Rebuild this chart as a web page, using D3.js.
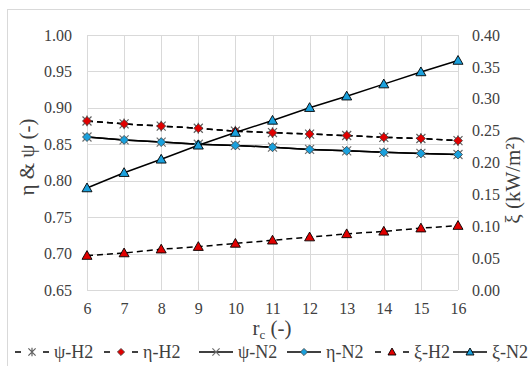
<!DOCTYPE html>
<html>
<head>
<meta charset="utf-8">
<script src="https://cdn.jsdelivr.net/npm/d3@7"></script>
<style>
  html, body { margin: 0; padding: 0; background: #fff; }
</style>
</head>
<body>
<div id="chart"></div>
<script>
const rc = [6, 7, 8, 9, 10, 11, 12, 13, 14, 15, 16];

// left axis: eta & psi
const psiH2 = [0.882, 0.878, 0.875, 0.872, 0.868, 0.866, 0.864, 0.862, 0.8595, 0.858, 0.855];
const etaH2 = [0.882, 0.878, 0.875, 0.872, 0.868, 0.866, 0.864, 0.862, 0.8595, 0.858, 0.855];
const psiN2 = [0.860, 0.856, 0.853, 0.850, 0.8485, 0.846, 0.843, 0.841, 0.839, 0.8375, 0.836];
const etaN2 = [0.860, 0.856, 0.853, 0.850, 0.8485, 0.846, 0.843, 0.841, 0.839, 0.8375, 0.836];

// right axis: xi (kW/m2)
const xiH2 = [0.054, 0.058, 0.064, 0.068, 0.073, 0.078, 0.083, 0.088, 0.092, 0.097, 0.101];
const xiN2 = [0.160, 0.184, 0.205, 0.227, 0.247, 0.266, 0.286, 0.304, 0.323, 0.342, 0.360];

const leftTicks = [0.65, 0.70, 0.75, 0.80, 0.85, 0.90, 0.95, 1.00];
const rightTicks = [0, 0.05, 0.10, 0.15, 0.20, 0.25, 0.30, 0.35, 0.40];

const RED = '#e00000';
const BLUE = '#1aa0dc';
const SERIF = 'Liberation Serif';
const TEXT_COLOR = '#404040';

const series = [
  { name: 'ψ-H2', values: psiH2, axis: 'L', dash: '6,4', marker: 'star' },
  { name: 'η-H2', values: etaH2, axis: 'L', dash: '6,4', marker: 'diamond', fill: RED },
  { name: 'ψ-N2', values: psiN2, axis: 'L', dash: null, marker: 'cross' },
  { name: 'η-N2', values: etaN2, axis: 'L', dash: null, marker: 'diamond', fill: BLUE },
  { name: 'ξ-H2', values: xiH2, axis: 'R', dash: '6,4', marker: 'triangle', fill: RED },
  { name: 'ξ-N2', values: xiN2, axis: 'R', dash: null, marker: 'triangle', fill: BLUE },
];

const totalWidth = 530;
const totalHeight = 366;
const plot = { left: 87, right: 458, top: 35, bottom: 290 };

const xScale = d3.scaleLinear().domain([6, 16]).range([plot.left, plot.right]);
const yLeft = d3.scaleLinear().domain([0.65, 1.0]).range([plot.bottom, plot.top]);
const yRight = d3.scaleLinear().domain([0, 0.4]).range([plot.bottom, plot.top]);

const svg = d3
  .select('#chart')
  .append('svg')
  .attr('width', totalWidth)
  .attr('height', totalHeight);

// chart border (partly cropped)
svg
  .append('rect')
  .attr('x', 7.5)
  .attr('y', 9.5)
  .attr('width', 600)
  .attr('height', 600)
  .attr('fill', 'none')
  .attr('stroke', '#d9d9d9');

// gridlines
svg
  .append('g')
  .selectAll('line')
  .data(leftTicks)
  .join('line')
  .attr('x1', plot.left)
  .attr('x2', plot.right)
  .attr('y1', (d) => Math.round(yLeft(d)) + 0.5)
  .attr('y2', (d) => Math.round(yLeft(d)) + 0.5)
  .attr('stroke', '#d9d9d9');

svg
  .append('g')
  .selectAll('line')
  .data(rc)
  .join('line')
  .attr('x1', (d) => Math.round(xScale(d)) + 0.5)
  .attr('x2', (d) => Math.round(xScale(d)) + 0.5)
  .attr('y1', plot.top)
  .attr('y2', plot.bottom)
  .attr('stroke', '#d9d9d9');

// axes
const fmt = d3.format('.2f');
const leftAxis = svg
  .append('g')
  .attr('transform', `translate(${plot.left},0)`)
  .call(d3.axisLeft(yLeft).tickValues(leftTicks).tickFormat(fmt).tickSize(0).tickPadding(15));
const rightAxis = svg
  .append('g')
  .attr('transform', `translate(${plot.right},0)`)
  .call(d3.axisRight(yRight).tickValues(rightTicks).tickFormat(fmt).tickSize(0).tickPadding(14));
const bottomAxis = svg
  .append('g')
  .attr('transform', `translate(0,${plot.bottom})`)
  .call(d3.axisBottom(xScale).tickValues(rc).tickFormat(d3.format('d')).tickSize(0).tickPadding(13));

[leftAxis, rightAxis, bottomAxis].forEach((g) => {
  g.select('.domain').remove();
  g.selectAll('text')
    .style('font-family', SERIF)
    .style('font-size', '16px')
    .style('fill', TEXT_COLOR);
});

// axis titles
svg
  .append('text')
  .attr('transform', 'translate(34,157) rotate(-90)')
  .attr('text-anchor', 'middle')
  .style('font-family', SERIF)
  .style('font-size', '21px')
  .style('fill', TEXT_COLOR)
  .text('η & ψ (-)');

svg
  .append('text')
  .attr('transform', 'translate(520,180) rotate(-90)')
  .attr('text-anchor', 'middle')
  .style('font-family', SERIF)
  .style('font-size', '21px')
  .style('fill', TEXT_COLOR)
  .text('ξ (kW/m²)');

const xTitle = svg
  .append('text')
  .attr('x', 272)
  .attr('y', 335)
  .attr('text-anchor', 'middle')
  .style('font-family', SERIF)
  .style('font-size', '21px')
  .style('fill', TEXT_COLOR);
xTitle.append('tspan').text('r');
xTitle.append('tspan').attr('dy', 4).style('font-size', '13px').text('c');
xTitle.append('tspan').attr('dy', -4).text(' (-)');

// marker drawing
const drawMarker = (g, s, cx, cy, scale = 1) => {
  if (s.marker === 'star' || s.marker === 'cross') {
    const r = 4.5 * scale;
    const path = d3.path();
    path.moveTo(cx - r, cy - r);
    path.lineTo(cx + r, cy + r);
    path.moveTo(cx - r, cy + r);
    path.lineTo(cx + r, cy - r);
    if (s.marker === 'star') {
      path.moveTo(cx, cy - r * 1.2);
      path.lineTo(cx, cy + r * 1.2);
    }
    g.append('path')
      .attr('d', path.toString())
      .attr('stroke', s.marker === 'star' ? '#606060' : '#707070')
      .attr('stroke-width', 1.2)
      .attr('fill', 'none');
  } else if (s.marker === 'diamond') {
    const r = 4.5 * scale;
    g.append('path')
      .attr('d', `M${cx},${cy - r}L${cx + r},${cy}L${cx},${cy + r}L${cx - r},${cy}Z`)
      .attr('fill', s.fill)
      .attr('stroke', '#404040')
      .attr('stroke-width', 0.8);
  } else if (s.marker === 'triangle') {
    const r = 5 * scale;
    g.append('path')
      .attr('d', `M${cx},${cy - r}L${cx + r},${cy + r * 0.75}L${cx - r},${cy + r * 0.75}Z`)
      .attr('fill', s.fill)
      .attr('stroke', '#000')
      .attr('stroke-width', 0.9);
  }
};

// series lines and markers
series.forEach((s) => {
  const yScale = s.axis === 'L' ? yLeft : yRight;
  const line = d3
    .line()
    .x((d, i) => xScale(rc[i]))
    .y((d) => yScale(d));
  svg
    .append('path')
    .datum(s.values)
    .attr('d', line)
    .attr('fill', 'none')
    .attr('stroke', '#000')
    .attr('stroke-width', 1.5)
    .attr('stroke-dasharray', s.dash);
  const mg = svg.append('g');
  s.values.forEach((v, i) => drawMarker(mg, s, xScale(rc[i]), yScale(v)));
});

// legend
const legendY = 352;
const legendX = [15, 104, 199, 287, 375, 453];
series.forEach((s, i) => {
  const g = svg.append('g');
  const x0 = legendX[i];
  const w = 34;
  if (s.dash) {
    [[0, 6], [w - 6, w]].forEach(([a, b]) => {
      g.append('line')
        .attr('x1', x0 + a).attr('x2', x0 + b)
        .attr('y1', legendY).attr('y2', legendY)
        .attr('stroke', '#000').attr('stroke-width', 1.5);
    });
  } else {
    g.append('line')
      .attr('x1', x0).attr('x2', x0 + w)
      .attr('y1', legendY).attr('y2', legendY)
      .attr('stroke', '#000').attr('stroke-width', 1.5);
  }
  drawMarker(g, s, x0 + w / 2, legendY, 0.8);
  g.append('text')
    .attr('x', x0 + w + 5)
    .attr('y', legendY + 6)
    .style('font-family', SERIF)
    .style('font-size', '18px')
    .style('fill', TEXT_COLOR)
    .text(s.name);
});
</script>
</body>
</html>
